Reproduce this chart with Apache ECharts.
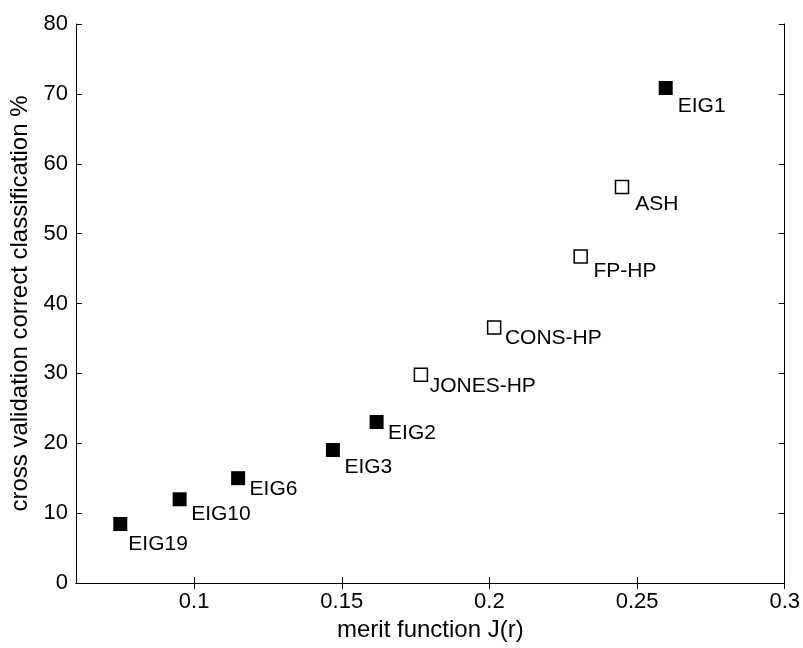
<!DOCTYPE html>
<html>
<head>
<meta charset="utf-8">
<script src="https://cdn.jsdelivr.net/npm/echarts@6/dist/echarts.min.js"></script>
<style>
  html, body { margin: 0; padding: 0; background: #fff; }
  #chart { width: 803px; height: 648px; }
</style>
</head>
<body>
<div id="chart"></div>
<script>
// ---- data ----
const eigNames = ['EIG19', 'EIG10', 'EIG6', 'EIG3', 'EIG2', 'EIG1'];
const eigMerit = [0.0750, 0.0951, 0.1149, 0.1470, 0.1618, 0.2597];
const eigAccuracy = [8.44, 11.98, 15.0, 19.03, 23.04, 70.84];

const otherNames = ['JONES-HP', 'CONS-HP', 'FP-HP', 'ASH'];
const otherMerit = [0.1768, 0.2016, 0.2309, 0.2449];
const otherAccuracy = [29.8, 36.57, 46.73, 56.67];

const xTicks = [0.1, 0.15, 0.2, 0.25, 0.3];
const yTicks = [0, 10, 20, 30, 40, 50, 60, 70, 80];

const xTitle = 'merit function J(r)';
const yTitle = 'cross validation correct classification %';

// ---- layout of the text labels (offset from the marker centre) ----
const labelNudge = {
  'EIG19': [8, 20], 'EIG10': [11.5, 15], 'EIG6': [11.5, 11.5], 'EIG3': [11.5, 17.5],
  'EIG2': [11.5, 11.5], 'EIG1': [12, 18], 'JONES-HP': [9.5, 12], 'CONS-HP': [11.5, 11.5],
  'FP-HP': [13.5, 15.5], 'ASH': [14, 18]
};

const FONT = 'Liberation Sans, Arial, Helvetica, sans-serif';

function makeData(names, xs, ys, size) {
  return names.map((n, i) => {
    const off = labelNudge[n];
    return {
      name: n,
      value: [xs[i], ys[i]],
      label: { position: [size / 2 + off[0], size / 2 + off[1]] }
    };
  });
}

const labelStyle = {
  show: true,
  formatter: p => p.name,
  color: '#000',
  fontFamily: FONT,
  fontSize: 21,
  align: 'left',
  verticalAlign: 'middle'
};

const axisCommonLine = { show: true, lineStyle: { color: '#000', width: 1 } };

const chart = echarts.init(document.getElementById('chart'), null, { renderer: 'canvas' });
chart.setOption({
  backgroundColor: '#fff',
  animation: false,
  grid: { left: 76, right: 15, top: 24, bottom: 65, containLabel: false },
  xAxis: [
    {
      type: 'value', min: 0.06, max: 0.3, position: 'bottom',
      name: xTitle, nameLocation: 'middle', nameGap: 34,
      nameTextStyle: { fontFamily: FONT, fontSize: 24, color: '#000' },
      axisLine: axisCommonLine,
      axisTick: { show: true, inside: true, length: 6, customValues: xTicks, lineStyle: { color: '#000' } },
      axisLabel: {
        customValues: xTicks, margin: 8, color: '#000', fontFamily: FONT, fontSize: 22,
        formatter: v => String(Math.round(v * 100) / 100)
      },
      splitLine: { show: false }
    },
    {
      type: 'value', min: 0.06, max: 0.3, position: 'top',
      axisLine: axisCommonLine,
      axisTick: { show: true, inside: true, length: 6, customValues: xTicks, lineStyle: { color: '#000' } },
      axisLabel: { show: false },
      splitLine: { show: false }
    }
  ],
  yAxis: [
    {
      type: 'value', min: 0, max: 80, interval: 10, position: 'left',
      name: yTitle, nameLocation: 'middle', nameGap: 40, nameRotate: 90,
      nameTextStyle: { fontFamily: FONT, fontSize: 24, color: '#000' },
      axisLine: axisCommonLine,
      axisTick: { show: true, inside: true, length: 6, customValues: yTicks, lineStyle: { color: '#000' } },
      axisLabel: { customValues: yTicks, margin: 8, color: '#000', fontFamily: FONT, fontSize: 22 },
      splitLine: { show: false }
    },
    {
      type: 'value', min: 0, max: 80, interval: 10, position: 'right',
      axisLine: axisCommonLine,
      axisTick: { show: true, inside: true, length: 6, customValues: yTicks, lineStyle: { color: '#000' } },
      axisLabel: { show: false },
      splitLine: { show: false }
    }
  ],
  series: [
    {
      type: 'scatter', name: 'EIG', xAxisIndex: 0, yAxisIndex: 0,
      symbol: 'rect', symbolSize: 14,
      itemStyle: { color: '#000', borderWidth: 0, opacity: 1 },
      label: labelStyle,
      data: makeData(eigNames, eigMerit, eigAccuracy, 14)
    },
    {
      type: 'scatter', name: 'other', xAxisIndex: 0, yAxisIndex: 0,
      symbol: 'rect', symbolSize: 13,
      itemStyle: { color: '#fff', borderColor: '#000', borderWidth: 1.5, opacity: 1 },
      label: labelStyle,
      data: makeData(otherNames, otherMerit, otherAccuracy, 13)
    }
  ]
});
</script>
</body>
</html>
